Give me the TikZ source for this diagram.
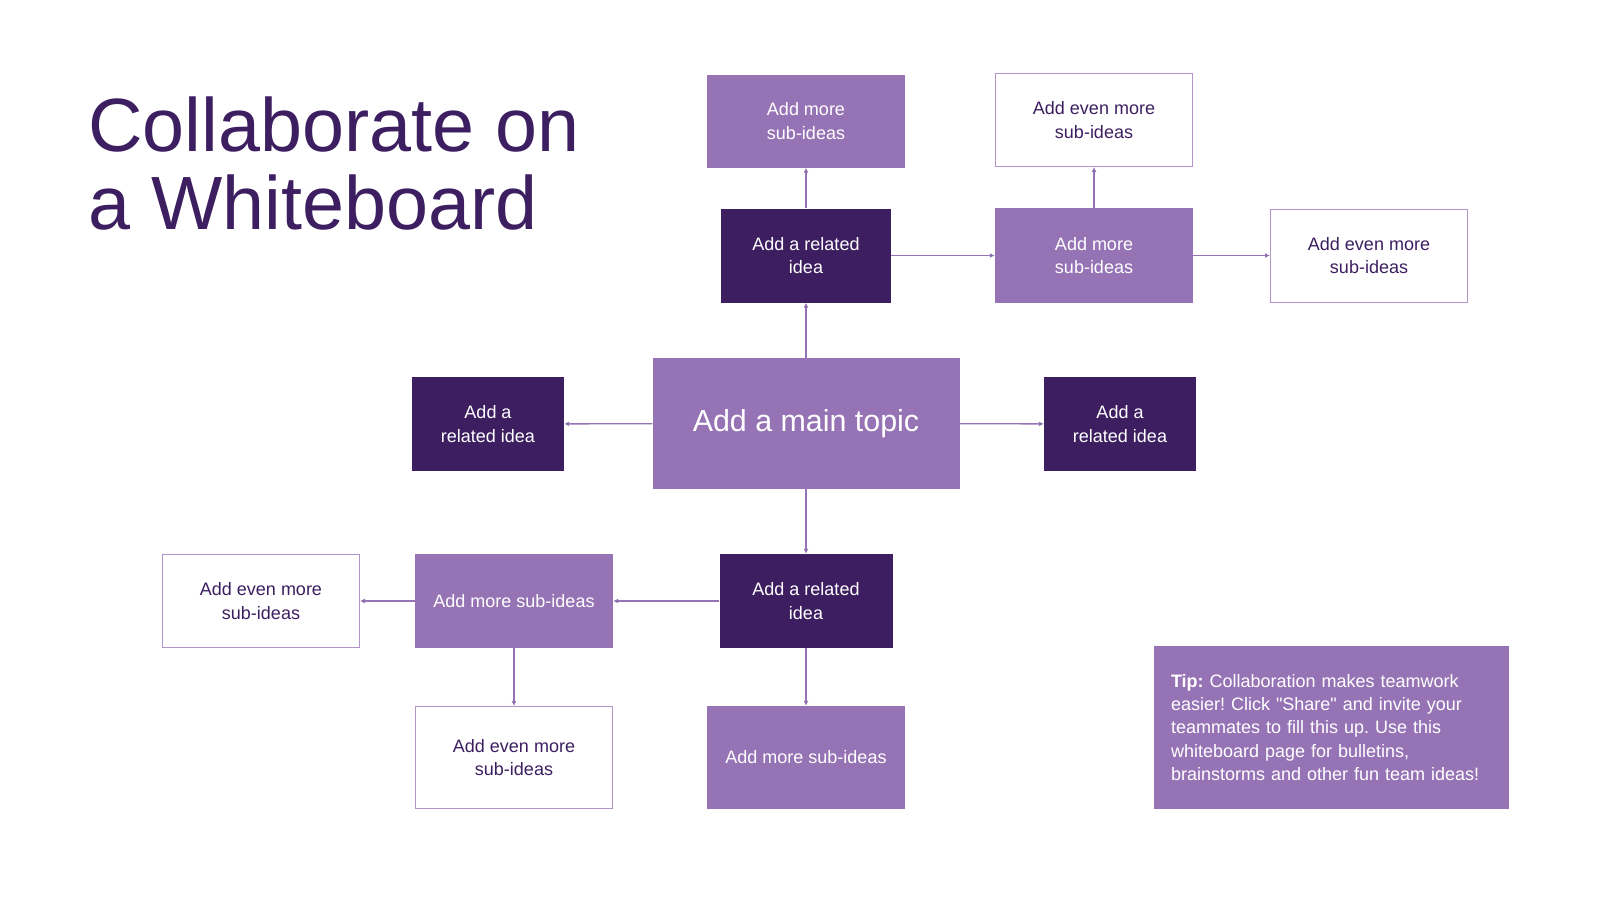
\documentclass[tikz,border=0pt]{standalone}
\usepackage{fontspec}
\setmainfont{Liberation Sans}
\usepackage{xcolor}
\usepackage{tikz}
\usetikzlibrary{arrows.meta,positioning}

\definecolor{lilac}{HTML}{9673B5}
\definecolor{plum}{HTML}{3D1F61}
\frenchspacing

\begin{document}
\begin{tikzpicture}[x=1pt, y=-1pt,
                    every node/.style={font=\fontsize{18}{23.5}\selectfont, align=center, inner sep=0pt},
                    idea/.style={fill=plum, text=white, minimum width=170pt, minimum height=94pt},
                    sub/.style={fill=lilac, text=white, minimum width=198pt, minimum height=94pt},
                    even/.style={draw=lilac!75, line width=1pt, fill=white, text=plum,
                                 minimum width=197pt, minimum height=93pt},
                    link/.style={->, >={Latex[length=5pt,width=5pt]}, draw=lilac, line width=1.3pt}]
    %\draw[help lines] (0,0) grid (1600,900);
    \useasboundingbox[fill=white] (0,0) rectangle (1600,900);

   \node[anchor=north west, align=left, text=plum, font=\fontsize{75.5}{78}\selectfont] (title) at (88,97)
        {Collaborate on\\a Whiteboard};

   \node[sub, minimum width=307pt, minimum height=131pt, font=\fontsize{30.4}{34}\selectfont] (main_topic) at (806,423.5) {Add a main topic};

   \node[idea] (idea_top) at (806,255.5) {Add a related\\idea};
   \node[idea, minimum width=152pt] (idea_left) at (488,424) {Add a\\related idea};
   \node[idea, minimum width=152pt] (idea_right) at (1120,424) {Add a\\related idea};
   \node[idea, minimum width=173pt] (idea_bottom) at (806,601) {Add a related\\idea};

   \node[sub, minimum height=93pt] (sub_top) at (806,121) {Add more\\sub-ideas};
   \node[sub, minimum height=95pt] (sub_mid) at (1094,255.5) {Add more\\sub-ideas};
   \node[sub] (sub_left) at (514,601) {Add more sub-ideas};
   \node[sub, minimum height=103pt] (sub_bottom) at (806,757.5) {Add more sub-ideas};

   \node[even] (even_top) at (1094,120) {Add even more\\sub-ideas};
   \node[even] (even_right) at (1369,255.5) {Add even more\\sub-ideas};
   \node[even] (even_left) at (261,601) {Add even more\\sub-ideas};
   \node[even, minimum height=102pt] (even_below) at (514,757.5) {Add even more\\sub-ideas};

   \node[fill=lilac, text=white, align=left, text width=321pt, inner xsep=17pt,
         minimum height=163pt, font=\fontsize{18}{23.4}\selectfont] (tip) at (1331.5,727.5)
        {\textbf{Tip:} Collaboration makes teamwork\\easier! Click \textquotedbl Share\textquotedbl{} and invite your\\teammates to fill this up. Use this\\whiteboard page for bulletins,\\brainstorms and other fun team ideas!};

   % Define links
   \path[link]
    (main_topic) edge (idea_top)
    (main_topic) edge (idea_left)
    (main_topic) edge (idea_right)
    (main_topic) edge (idea_bottom)
    (idea_top) edge (sub_top)
    (idea_top) edge (sub_mid)
    (sub_mid) edge (even_top)
    (sub_mid) edge (even_right)
    (idea_bottom) edge (sub_left)
    (idea_bottom) edge (sub_bottom)
    (sub_left) edge (even_left)
    (sub_left) edge (even_below);

\end{tikzpicture}
\end{document}
